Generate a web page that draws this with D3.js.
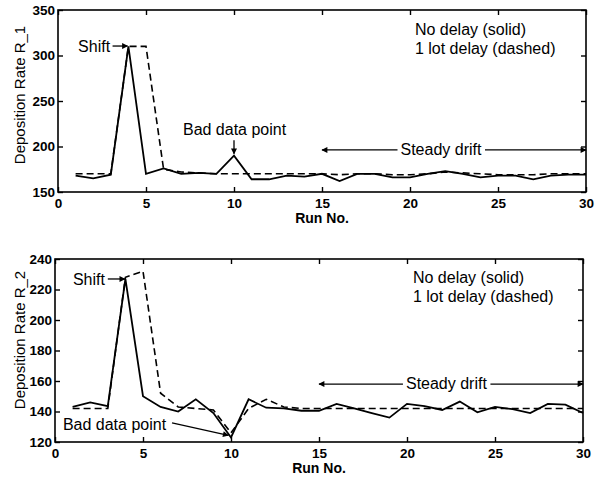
<!DOCTYPE html>
<html>
<head>
<meta charset="utf-8">
<script src="https://cdn.jsdelivr.net/npm/d3@7"></script>
<style>
  body { margin: 0; background: #fff; }
  svg { display: block; font-family: 'Liberation Sans', Arial, sans-serif; }
  .tick text { font-weight: bold; }
</style>
</head>
<body>
<script>
// run numbers on the x axis
const runs = [1, 2, 3, 4, 5, 6, 7, 8, 9, 10, 11, 12, 13, 14, 15, 16, 17, 18, 19, 20, 21, 22, 23, 24, 25, 26, 27, 28, 29, 30]
const xTicks = [0, 5, 10, 15, 20, 25, 30]

// top panel: deposition rate R_1
const r1Ticks = [150, 200, 250, 300, 350]
const r1Solid = [168, 165, 169, 310, 170, 176, 170, 171, 170, 190, 164, 164, 168, 167, 170, 162, 170, 170, 166, 166, 170, 173, 170, 166, 168, 168, 164, 168, 169, 169]
const r1Dashed = [170, 170, 170, 310, 310, 175, 172, 171, 170, 170, 170, 170, 170, 170, 170, 169, 170, 170, 169, 169, 170, 172, 171, 170, 169, 169, 169, 170, 170, 170]

// bottom panel: deposition rate R_2
const r2Ticks = [120, 140, 160, 180, 200, 220, 240]
const r2Solid = [143, 146, 143.5, 227, 150, 143, 140, 148, 139, 123, 148, 142.5, 142, 140.5, 140.5, 145, 142, 139, 136, 145, 143.5, 141, 146.5, 139.5, 143, 141.5, 139, 145, 144.5, 139]
const r2Dashed = [142, 142, 142, 228, 232, 152, 143, 142, 141, 126, 142, 148, 143, 142, 142, 142, 142, 142, 142, 142, 142, 142, 142, 142, 142, 142, 142, 142, 142, 142]

const legendLines = ['No delay (solid)', '1 lot delay (dashed)']

const W = 600
const H = 483

const svg = d3.select('body').append('svg')
  .attr('width', W)
  .attr('height', H)

svg.append('defs').append('marker')
  .attr('id', 'head')
  .attr('viewBox', '0 0 10 10')
  .attr('refX', 9)
  .attr('refY', 5)
  .attr('markerWidth', 7)
  .attr('markerHeight', 6)
  .attr('markerUnits', 'userSpaceOnUse')
  .attr('orient', 'auto')
  .append('path')
  .attr('d', 'M0,0L10,5L0,10z')
  .attr('fill', '#000')

const panels = [
  {
    box: { left: 58, right: 586, top: 10, bottom: 192 },
    yDomain: [150, 350],
    yTicks: r1Ticks,
    solid: r1Solid,
    dashed: r1Dashed,
    yLabel: 'Deposition Rate R_1',
    yLabelAt: 95,
    shift: { text: [1.14, 304], from: [3.1, 310.4], to: [3.95, 310.4] },
    bad: { text: [7.1, 212.6], from: [10, 207], to: [10, 192] },
    legend: [20.28, 322.5, 301.7],
    drift: [21.76, 190.7, 196.2]
  },
  {
    box: { left: 55, right: 583, top: 259, bottom: 442 },
    yDomain: [120, 240],
    yTicks: r2Ticks,
    solid: r2Solid,
    dashed: r2Dashed,
    yLabel: 'Deposition Rate R_2',
    yLabelAt: 340,
    shift: { text: [1.02, 223], from: [3.0, 226.9], to: [3.97, 226.9] },
    bad: { text: [0.45, 127.9], from: [6.65, 132.5], to: [9.85, 124.4] },
    legend: [20.34, 224.3, 211.8],
    drift: [22.24, 154.75, 158]
  }
]

panels.forEach(p => drawPanel(p))

function styleAxis (g) {
  g.select('.domain').remove()
  g.attr('font-family', null).attr('font-size', null)
  g.selectAll('line').attr('stroke', '#000').attr('stroke-width', 1.4)
  g.selectAll('text')
    .style('font-family', "'Liberation Sans', Arial, sans-serif")
    .style('font-size', '13.5px')
    .style('font-weight', 'bold')
    .attr('fill', '#000')
}

function drawPanel (p) {
  const b = p.box
  const x = d3.scaleLinear().domain([0, 30]).range([b.left, b.right])
  const y = d3.scaleLinear().domain(p.yDomain).range([b.bottom, b.top])
  const g = svg.append('g')

  // axes, ticks pointing inwards on all four sides
  g.append('g')
    .attr('transform', `translate(0, ${b.bottom})`)
    .call(d3.axisBottom(x).tickValues(xTicks).tickSizeInner(-5).tickSizeOuter(0).tickPadding(6))
    .call(styleAxis)
  g.append('g')
    .attr('transform', `translate(0, ${b.top})`)
    .call(d3.axisTop(x).tickValues(xTicks).tickSizeInner(-5).tickSizeOuter(0).tickFormat(''))
    .call(styleAxis)
  g.append('g')
    .attr('transform', `translate(${b.left}, 0)`)
    .call(d3.axisLeft(y).tickValues(p.yTicks).tickSizeInner(-5).tickSizeOuter(0).tickPadding(3))
    .call(styleAxis)
  g.append('g')
    .attr('transform', `translate(${b.right}, 0)`)
    .call(d3.axisRight(y).tickValues(p.yTicks).tickSizeInner(-5).tickSizeOuter(0).tickFormat(''))
    .call(styleAxis)

  g.append('rect')
    .attr('x', b.left)
    .attr('y', b.top)
    .attr('width', b.right - b.left)
    .attr('height', b.bottom - b.top)
    .attr('fill', 'none')
    .attr('stroke', '#000')
    .attr('stroke-width', 1.6)

  const line = d3.line()
    .x((d, i) => x(runs[i]))
    .y(d => y(d))

  g.append('path')
    .attr('d', line(p.dashed))
    .attr('fill', 'none')
    .attr('stroke', '#000')
    .attr('stroke-width', 1.6)
    .attr('stroke-dasharray', '7,4')

  g.append('path')
    .attr('d', line(p.solid))
    .attr('fill', 'none')
    .attr('stroke', '#000')
    .attr('stroke-width', 1.8)
    .attr('stroke-linejoin', 'miter')

  // axis titles
  g.append('text')
    .attr('transform', `translate(25, ${p.yLabelAt}) rotate(-90)`)
    .attr('text-anchor', 'middle')
    .attr('font-size', 15)
    .text(p.yLabel)

  g.append('text')
    .attr('x', (b.left + b.right) / 2)
    .attr('y', b.bottom + 31)
    .attr('text-anchor', 'middle')
    .attr('font-size', 14)
    .attr('font-weight', 'bold')
    .text('Run No.')

  // annotations
  const arrow = (from, to) => g.append('line')
    .attr('x1', x(from[0]))
    .attr('y1', y(from[1]))
    .attr('x2', x(to[0]))
    .attr('y2', y(to[1]))
    .attr('stroke', '#000')
    .attr('stroke-width', 1.3)
    .attr('marker-end', 'url(#head)')

  g.append('text')
    .attr('x', x(p.shift.text[0]))
    .attr('y', y(p.shift.text[1]))
    .attr('font-size', 16)
    .text('Shift')
  arrow(p.shift.from, p.shift.to)

  g.append('text')
    .attr('x', x(p.bad.text[0]))
    .attr('y', y(p.bad.text[1]))
    .attr('font-size', 16)
    .text('Bad data point')
  arrow(p.bad.from, p.bad.to)

  legendLines.forEach((t, i) => {
    g.append('text')
      .attr('x', x(p.legend[0]))
      .attr('y', y(p.legend[i + 1]))
      .attr('font-size', 16)
      .text(t)
  })

  const drift = g.append('text')
    .attr('x', x(p.drift[0]))
    .attr('y', y(p.drift[1]))
    .attr('text-anchor', 'middle')
    .attr('font-size', 16)
    .text('Steady drift')
  const bb = drift.node().getBBox()
  const ay = y(p.drift[2])
  g.append('line')
    .attr('x1', bb.x - 3).attr('y1', ay)
    .attr('x2', x(15)).attr('y2', ay)
    .attr('stroke', '#000').attr('stroke-width', 1.3)
    .attr('marker-end', 'url(#head)')
  g.append('line')
    .attr('x1', bb.x + bb.width + 3).attr('y1', ay)
    .attr('x2', x(30)).attr('y2', ay)
    .attr('stroke', '#000').attr('stroke-width', 1.3)
    .attr('marker-end', 'url(#head)')
}
</script>
</body>
</html>
